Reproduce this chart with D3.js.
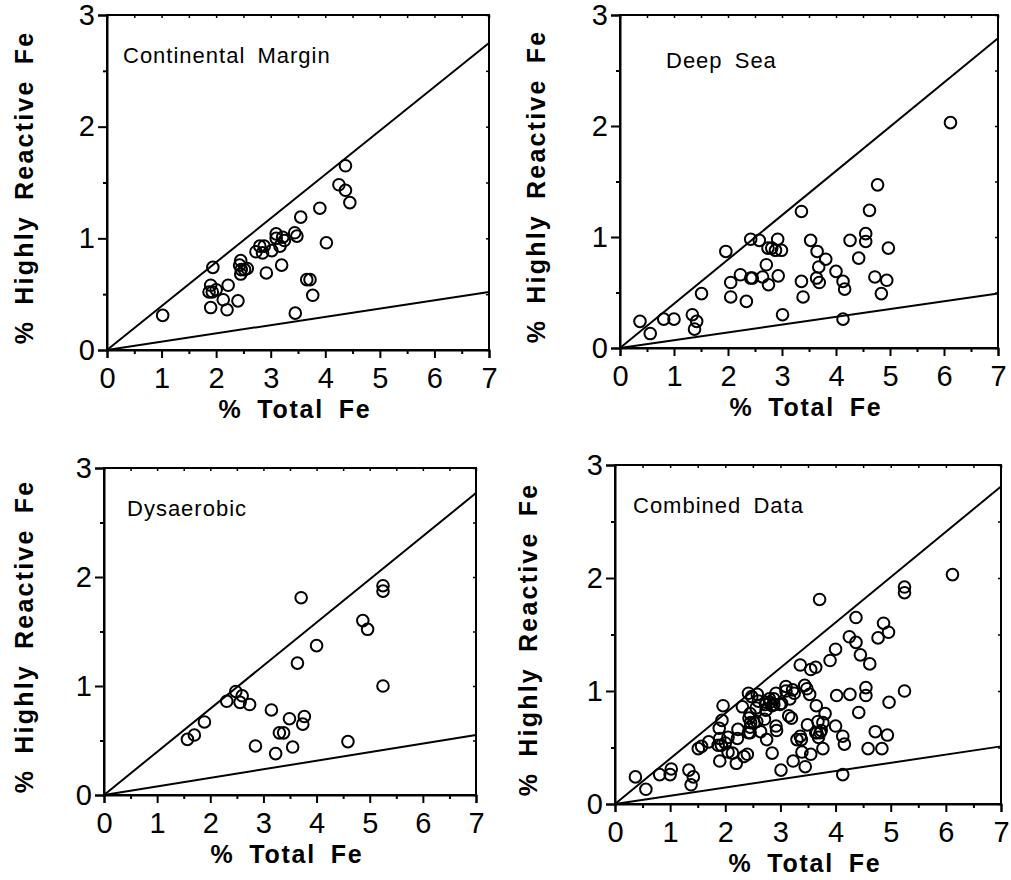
<!DOCTYPE html>
<html>
<head>
<meta charset="utf-8">
<script src="https://cdn.jsdelivr.net/npm/d3@7"></script>
<style>
  html, body { margin: 0; padding: 0; background: #fff; }
  svg { display: block; font-family: "Liberation Sans", Arial, Helvetica, sans-serif; }
</style>
</head>
<body>
<svg id="chart" width="1011" height="880"></svg>
<script>
// ---------------- data ----------------
const xTicks = [0, 1, 2, 3, 4, 5, 6, 7];
const yTicks = [0, 1, 2, 3];
const xMinorTicks = [0.5, 1.5, 2.5, 3.5, 4.5, 5.5, 6.5];
const yMinorTicks = [0.5, 1.5, 2.5];
const panelTitles = ["Continental Margin", "Deep Sea", "Dysaerobic", "Combined Data"];
const xTitle = "% Total Fe";
const yTitle = "% Highly Reactive Fe";

// [% total Fe, % highly reactive Fe]
const continentalMargin = [
  [1.02,0.31],[1.94,0.74],[1.90,0.58],[1.87,0.52],[1.93,0.52],[2.00,0.54],[1.90,0.38],
  [2.13,0.45],[2.22,0.58],[2.20,0.36],[2.40,0.44],[2.45,0.80],[2.43,0.76],[2.46,0.72],
  [2.45,0.68],[2.52,0.72],[2.57,0.73],[2.73,0.88],[2.80,0.93],[2.85,0.87],[2.88,0.93],
  [2.92,0.69],[3.02,0.89],[3.10,1.00],[3.10,1.04],[3.17,0.93],[3.22,1.01],[3.25,0.98],
  [3.20,0.76],[3.44,1.05],[3.48,1.02],[3.55,1.19],[3.45,0.33],[3.66,0.63],[3.72,0.63],
  [3.77,0.49],[3.90,1.27],[4.02,0.96],[4.25,1.48],[4.37,1.65],[4.37,1.43],[4.45,1.32]
];
const deepSea = [
  [0.37,0.24],[0.56,0.13],[0.81,0.26],[1.00,0.26],[1.34,0.30],[1.42,0.24],[1.38,0.17],
  [1.51,0.49],[1.96,0.87],[2.05,0.59],[2.05,0.46],[2.23,0.66],[2.34,0.42],[2.42,0.98],
  [2.42,0.63],[2.45,0.63],[2.58,0.97],[2.64,0.64],[2.71,0.75],[2.74,0.90],[2.75,0.57],
  [2.81,0.90],[2.92,0.98],[2.93,0.65],[2.99,0.88],[2.88,0.88],[3.01,0.30],[3.36,1.23],
  [3.36,0.60],[3.39,0.46],[3.53,0.97],[3.64,0.63],[3.65,0.87],[3.68,0.73],[3.69,0.59],
  [3.81,0.80],[4.00,0.69],[4.13,0.60],[4.16,0.53],[4.13,0.26],[4.26,0.97],[4.42,0.81],
  [4.55,1.03],[4.55,0.96],[4.62,1.24],[4.77,1.47],[4.72,0.64],[4.84,0.49],[4.94,0.61],
  [4.97,0.90],[6.12,2.03]
];
const dysaerobic = [
  [1.57,0.51],[1.70,0.55],[1.89,0.67],[2.31,0.86],[2.48,0.95],[2.60,0.91],[2.56,0.85],
  [2.74,0.83],[3.15,0.78],[3.30,0.57],[3.38,0.57],[3.49,0.70],[3.77,0.72],[3.74,0.65],
  [2.85,0.45],[3.23,0.38],[3.55,0.44],[4.59,0.49],[3.64,1.21],[3.71,1.81],[4.00,1.37],
  [4.87,1.60],[4.96,1.52],[5.25,1.92],[5.25,1.87],[5.25,1.00]
];
const combinedData = continentalMargin.concat(deepSea, dysaerobic);
const panelData = [continentalMargin, deepSea, dysaerobic, combinedData];

// reference lines: value of highly reactive Fe at 7 % total Fe (both start at the origin)
const upperLineEnd = [2.75, 2.79, 2.77, 2.81];
const lowerLineEnd = [0.52, 0.49, 0.55, 0.51];

// ---------------- layout ----------------
const frames = [
  {left: 107, right: 489, top: 15, bottom: 350, yLab: 33, titleX: 123, titleY: 63},
  {left: 620, right: 998, top: 15, bottom: 348, yLab: 545, titleX: 666, titleY: 68},
  {left: 104, right: 476, top: 468, bottom: 795, yLab: 33, titleX: 127, titleY: 516},
  {left: 615, right: 1001, top: 465, bottom: 804, yLab: 537, titleX: 633, titleY: 513}
];

const svg = d3.select("#chart");

frames.forEach((f, i) => {
  const x = d3.scaleLinear().domain([0, 7]).range([f.left, f.right]);
  const y = d3.scaleLinear().domain([0, 3]).range([f.bottom, f.top]);
  const g = svg.append("g");

  // frame
  g.append("rect")
    .attr("x", f.left).attr("y", f.top)
    .attr("width", f.right - f.left).attr("height", f.bottom - f.top)
    .attr("fill", "none").attr("stroke", "#000").attr("stroke-width", 2);

  // bottom axis
  const xAxis = d3.axisBottom(x).tickValues(xTicks).tickSize(8).tickPadding(9).tickFormat(d3.format("d"));
  const xa = g.append("g").attr("transform", `translate(0,${f.bottom})`).call(xAxis);
  xa.select(".domain").attr("stroke-width", 2);
  xa.selectAll(".tick line").attr("stroke-width", 2);
  xa.selectAll(".tick text").attr("font-size", 29).attr("fill", "#000")
    .attr("font-family", "Liberation Sans, Arial, sans-serif");
  const xm = d3.axisBottom(x).tickValues(xMinorTicks).tickSize(4).tickFormat("");
  const xma = g.append("g").attr("transform", `translate(0,${f.bottom})`).call(xm);
  xma.select(".domain").remove();
  xma.selectAll(".tick line").attr("stroke-width", 2);

  // left axis
  const yAxis = d3.axisLeft(y).tickValues(yTicks).tickSize(9).tickPadding(3).tickFormat(d3.format("d"));
  const ya = g.append("g").attr("transform", `translate(${f.left},0)`).call(yAxis);
  ya.select(".domain").attr("stroke-width", 2);
  ya.selectAll(".tick line").attr("stroke-width", 2);
  ya.selectAll(".tick text").attr("font-size", 29).attr("fill", "#000")
    .attr("font-family", "Liberation Sans, Arial, sans-serif");
  const ym = d3.axisLeft(y).tickValues(yMinorTicks).tickSize(4).tickFormat("");
  const yma = g.append("g").attr("transform", `translate(${f.left},0)`).call(ym);
  yma.select(".domain").remove();
  yma.selectAll(".tick line").attr("stroke-width", 2);

  // inner ticks on right and top
  const ry = d3.axisLeft(y).tickValues(yTicks.concat(yMinorTicks)).tickSize(3).tickFormat("");
  const rya = g.append("g").attr("transform", `translate(${f.right},0)`).call(ry);
  rya.select(".domain").remove();
  rya.selectAll(".tick line").attr("stroke-width", 1.5);
  const tx = d3.axisBottom(x).tickValues(xTicks.concat(xMinorTicks)).tickSize(3).tickFormat("");
  const txa = g.append("g").attr("transform", `translate(0,${f.top})`).call(tx);
  txa.select(".domain").remove();
  txa.selectAll(".tick line").attr("stroke-width", 1.5);

  // reference lines
  const line = d3.line().x(d => x(d[0])).y(d => y(d[1]));
  g.append("path").datum([[0, 0], [7, upperLineEnd[i]]])
    .attr("d", line).attr("fill", "none").attr("stroke", "#000").attr("stroke-width", 2);
  g.append("path").datum([[0, 0], [7, lowerLineEnd[i]]])
    .attr("d", line).attr("fill", "none").attr("stroke", "#000").attr("stroke-width", 2);

  // points
  g.selectAll("circle.pt").data(panelData[i]).enter().append("circle")
    .attr("class", "pt")
    .attr("cx", d => x(d[0])).attr("cy", d => y(d[1])).attr("r", 5.8)
    .attr("fill", "none").attr("stroke", "#000").attr("stroke-width", 2);

  // panel title
  g.append("text").attr("x", f.titleX).attr("y", f.titleY)
    .attr("font-size", 22).attr("letter-spacing", 1).attr("word-spacing", 5)
    .attr("fill", "#000").text(panelTitles[i]);

  // x title
  g.append("text").attr("x", (f.left + f.right) / 2 - 3).attr("y", f.bottom + 68)
    .attr("text-anchor", "middle").attr("font-size", 25).attr("font-weight", "bold")
    .attr("letter-spacing", 1.8).attr("word-spacing", 6)
    .attr("fill", "#000").text(xTitle);

  // y title
  const cy = (f.top + f.bottom) / 2 + 5;
  g.append("text")
    .attr("transform", `translate(${f.yLab},${cy}) rotate(-90)`)
    .attr("text-anchor", "middle").attr("font-size", 25).attr("font-weight", "bold")
    .attr("letter-spacing", 2.2).attr("word-spacing", 6)
    .attr("fill", "#000").text(yTitle);
});
</script>
</body>
</html>
